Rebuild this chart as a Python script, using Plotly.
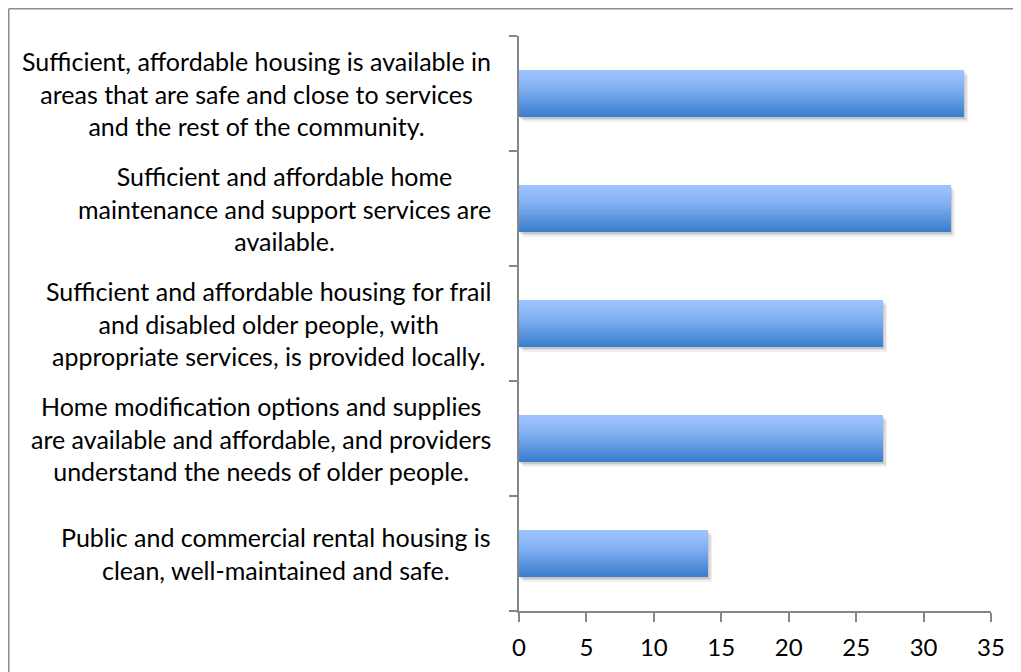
import plotly.graph_objects as go

categories = [
    "Sufficient, affordable housing is available in<br>areas that are safe and close to services<br>and the rest of the community.",
    "Sufficient and affordable home<br>maintenance and support services are<br>available.",
    "Sufficient and affordable housing for frail<br>and disabled older people, with<br>appropriate services, is provided locally.",
    "Home modification options and supplies<br>are available and affordable, and providers<br>understand the needs of older people.",
    "Public and commercial rental housing is<br>clean, well-maintained and safe.",
]
values = [33, 32, 27, 27, 14]
x_ticks = [0, 5, 10, 15, 20, 25, 30, 35]

ypos = list(range(len(categories)))
BAR_W = 0.41
FONT = "Lato, 'Open Sans', sans-serif"

# page body has an 8px margin; figure is sized so that it fills the window
PAGE_OFF = 8
W, H = 1021 - PAGE_OFF, 672 - PAGE_OFF
L, R, T, B = 519 - PAGE_OFF, 1021 - 991, 36 - PAGE_OFF, 672 - 611
PW, PH = W - L - R, H - T - B

fig = go.Figure()

# soft shadow
for i, (dx, alpha) in enumerate([(0.30, 0.06), (0.20, 0.08), (0.10, 0.10)]):
    fig.add_trace(go.Bar(
        x=values, y=ypos, base=[dx] * len(values), orientation="h",
        width=BAR_W, offset=-BAR_W / 2 + 0.012 * (3 - i) + 0.005,
        marker=dict(color=f"rgba(0,0,0,{alpha})", line=dict(width=0)),
        hoverinfo="skip", showlegend=False,
    ))

# gradient bar made of horizontal strips (light on top, dark at bottom)
top = (157, 195, 255)
bot = (58, 126, 206)
N = 24
for k in range(N):
    t = k / (N - 1)
    tt = t ** 1.3
    c = tuple(round(top[j] + (bot[j] - top[j]) * tt) for j in range(3))
    strip = BAR_W / N
    fig.add_trace(go.Bar(
        x=values, y=ypos, orientation="h",
        width=strip * 1.08, offset=-BAR_W / 2 + k * strip,
        marker=dict(color=f"rgb{c}", line=dict(width=0)),
        hoverinfo="skip", showlegend=False,
    ))

for yi, lab in zip(ypos, categories):
    fig.add_annotation(
        x=0, y=yi, xref="x", yref="y", text=lab, showarrow=False,
        xanchor="right", yanchor="middle", align="center", xshift=-26,
        font=dict(family=FONT, size=25, color="#000000"),
    )

# outer chart frame: left and top edges are the visible ones
x_left = (0.75 - L) / PW
x_right = (W - L) / PW
y_top = 1 + (T - 0.75) / PH
y_bottom = -B / PH
frame = dict(color="#8c8c8c", width=1.5)
fig.add_shape(type="line", xref="paper", yref="paper",
              x0=x_left, x1=x_left, y0=y_bottom, y1=y_top, line=frame, layer="below")
fig.add_shape(type="line", xref="paper", yref="paper",
              x0=x_left, x1=x_right, y0=y_top, y1=y_top, line=frame, layer="below")

fig.update_layout(
    width=W, height=H,
    margin=dict(l=L, r=R, t=T, b=B),
    paper_bgcolor="white", plot_bgcolor="white",
    barmode="overlay", bargap=0,
    showlegend=False,
    xaxis=dict(
        range=[0, 35], tickvals=x_ticks, ticktext=[str(v) for v in x_ticks],
        showgrid=False, zeroline=False,
        showline=True, linecolor="#868686", linewidth=1.5,
        ticks="outside", ticklen=9, tickwidth=1.5, tickcolor="#868686",
        tickfont=dict(family=FONT, size=24, color="#000000"),
        ticklabelstandoff=5,
        fixedrange=True,
    ),
    yaxis=dict(
        range=[4.5, -0.5], tickvals=[i - 0.5 for i in range(len(categories) + 1)],
        showticklabels=False, showgrid=False, zeroline=False,
        showline=True, linecolor="#868686", linewidth=1.5,
        ticks="outside", ticklen=8, tickwidth=1.5, tickcolor="#868686",
        fixedrange=True,
    ),
)

fig.write_html("out.html")
